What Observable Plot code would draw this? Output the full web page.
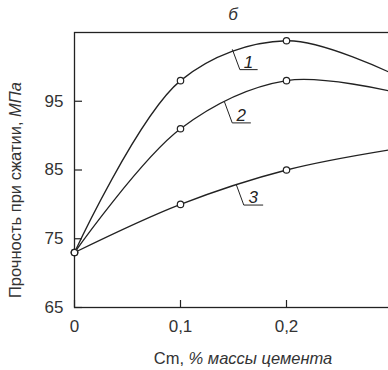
<!DOCTYPE html>
<html>
<head>
<meta charset="utf-8">
<script src="https://cdn.jsdelivr.net/npm/d3@7"></script>
<script src="https://cdn.jsdelivr.net/npm/@observablehq/plot@0.6"></script>
<style>
  html, body { margin: 0; padding: 0; background: white; overflow: hidden; }
  #c { width: 388px; height: 370px; overflow: hidden; }
</style>
</head>
<body>
<div id="c"></div>
<script>
// --- data ---
const xVals = [0, 0.1, 0.2, 0.3];
const series1 = [73, 98, 103.8, 99];
const series2 = [73, 91, 98, 96.4];
const series3 = [73, 80, 85, 88];
const seriesNames = ["1", "2", "3"];

// leader lines for curve labels (data coordinates)
const leaderStartX = [0.149, 0.1415, 0.1528];
const leaderStartY = [102.5, 94.9, 82.8];
const leaderElbowX = [0.156, 0.1488, 0.1597];
const leaderElbowY = [99.6, 91.85, 79.9];
const leaderEndX = [0.1724, 0.166, 0.1776];

const xTickVals = [0, 0.1, 0.2];
const yTickVals = [65, 75, 85, 95];
const xDomain = [0, 0.3];
const yDomain = [65, 105];

const titleText = "б";
const yLabelPlain = "Прочность при сжатии, ";
const yLabelItalic = "МПа";
const xLabelPlain = "Cm, ";
const xLabelItalic = "% массы цемента";

// --- build ---
const allSeries = [series1, series2, series3];
const rows = allSeries.flatMap((s, i) => xVals.map((x, j) => ({x, y: s[j], s: seriesNames[i]})));
const leaderRows = seriesNames.flatMap((n, i) => [
  {x: leaderStartX[i], y: leaderStartY[i], k: n},
  {x: leaderElbowX[i], y: leaderElbowY[i], k: n},
  {x: leaderEndX[i], y: leaderElbowY[i], k: n}
]);
const labelRows = seriesNames.map((n, i) => ({x: (leaderElbowX[i] + leaderEndX[i]) / 2, y: leaderElbowY[i], t: n}));

const W = 400, H = 370, ML = 74, MT = 32, MB = 63, MR = 8;
const FW = W - ML - MR, FH = H - MT - MB;
const ink = "#222";
const font = "'Liberation Sans', Arial, Helvetica, sans-serif";

const chart = Plot.plot({
  width: W, height: H,
  marginLeft: ML, marginTop: MT, marginBottom: MB, marginRight: MR,
  style: {fontFamily: font, fontSize: "17px", color: "#333", background: "white", maxWidth: "none", overflow: "visible"},
  x: {domain: xDomain},
  y: {domain: yDomain},
  marks: [
    Plot.frame({stroke: ink, strokeWidth: 1.3}),
    Plot.tickY(yTickVals, {y: d => d, stroke: ink, strokeWidth: 1.2, insetRight: FW - 8}),
    Plot.tickX(xTickVals, {x: d => d, stroke: ink, strokeWidth: 1.2, insetTop: FH - 7}),
    Plot.axisY({ticks: yTickVals, tickSize: 0, tickPadding: 11, label: null, fontSize: 17}),
    Plot.axisX({ticks: xTickVals, tickSize: 0, tickPadding: 12, label: null, fontSize: 17,
      tickFormat: d => String(d).replace(".", ",")}),
    Plot.line(rows, {x: "x", y: "y", z: "s", curve: "catmull-rom", stroke: ink, strokeWidth: 1.3}),
    Plot.line(leaderRows, {x: "x", y: "y", z: "k", stroke: ink, strokeWidth: 1}),
    Plot.text(labelRows, {x: "x", y: "y", text: "t", lineAnchor: "bottom", dy: -2, fontSize: 17, fontStyle: "italic", fill: ink}),
    Plot.dot(rows, {x: "x", y: "y", r: 3.2, fill: "white", stroke: ink, strokeWidth: 1.2})
  ]
});

const svg = d3.select(chart);
// title
svg.append("text")
  .attr("x", ML + FW / 2).attr("y", 20)
  .attr("text-anchor", "middle")
  .attr("font-family", font).attr("font-size", 17).attr("font-style", "italic")
  .attr("fill", "#333")
  .text(titleText);
// y label
const yl = svg.append("text")
  .attr("transform", `translate(21,${MT + 158}) rotate(-90)`)
  .attr("text-anchor", "middle")
  .attr("font-family", font).attr("font-size", 16.5).attr("fill", "#333");
yl.append("tspan").text(yLabelPlain);
yl.append("tspan").attr("font-style", "italic").text(yLabelItalic);
// x label
const xl = svg.append("text")
  .attr("x", 243).attr("y", 364)
  .attr("text-anchor", "middle")
  .attr("font-family", font).attr("font-size", 16.5).attr("fill", "#333");
xl.append("tspan").text(xLabelPlain);
xl.append("tspan").attr("font-style", "italic").text(xLabelItalic);

document.getElementById("c").appendChild(chart);
</script>
</body>
</html>
